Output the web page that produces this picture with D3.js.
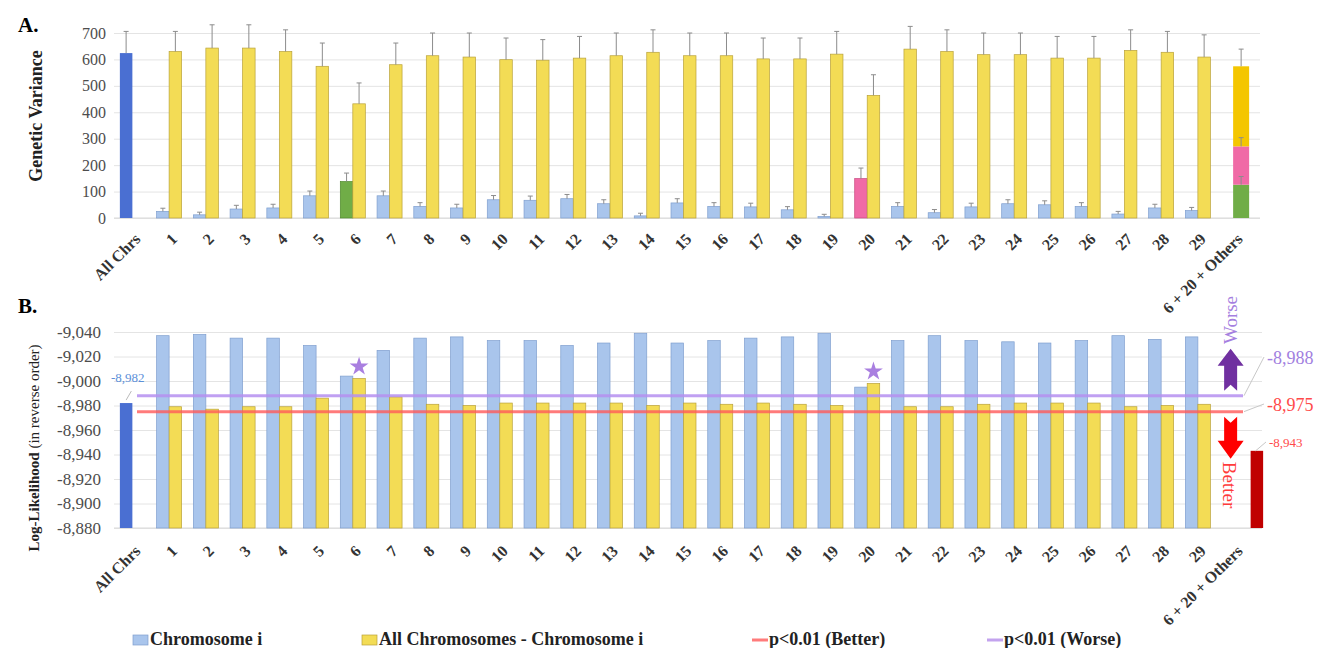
<!DOCTYPE html>
<html>
<head>
<meta charset="utf-8">
<script src="https://cdn.jsdelivr.net/npm/d3@7"></script>
<style>
  body { margin: 0; background: #fff; }
  svg { display: block; }
  svg text { font-family: "Liberation Serif", "Times New Roman", serif; }
  .grid line { stroke: #e4e4e4; }
  .grid path { display: none; }
  .ytick text { fill: #4d4d4d; }
  .xtick text { fill: #333; font-weight: bold; }
</style>
</head>
<body>
<svg id="chart" width="1324" height="648"></svg>
<script>
// categories along the x axis
var categories = ['All Chrs', '1', '2', '3', '4', '5', '6', '7', '8', '9', '10', '11', '12', '13', '14',
  '15', '16', '17', '18', '19', '20', '21', '22', '23', '24', '25', '26', '27', '28', '29', '6 + 20 + Others']
var chrNames = categories.slice(1, 30)

// panel A: genetic variance
var allChrsVariance = 624
var allChrsVarianceErr = 82
var chrVariance = [25, 12, 34, 38, 84, 138, 84, 44, 38, 69, 67, 73, 54, 8, 57, 44, 42, 31, 6, 149, 44, 20, 42, 54, 50, 44, 15, 38, 28]
var chrVarianceErr = [12, 10, 14, 14, 18, 32, 18, 14, 14, 16, 16, 16, 15, 10, 16, 14, 14, 12, 8, 40, 14, 12, 14, 15, 15, 14, 10, 14, 12]
var restVariance = [630, 643, 643, 630, 574, 432, 580, 614, 609, 599, 597, 605, 614, 627, 614, 614, 602, 602, 620, 464, 639, 630, 618, 618, 605, 605, 634, 627, 609]
var restVarianceErr = [76, 88, 88, 82, 88, 79, 82, 86, 91, 82, 78, 82, 86, 85, 86, 86, 79, 79, 86, 78, 86, 82, 82, 82, 82, 82, 78, 79, 84]
var combinedParts = [126, 145, 303]          // chr 6, chr 20, others
var combinedErr = [31, 33, 65]
var varianceTicks = [0, 100, 200, 300, 400, 500, 600, 700]

// panel B: log-likelihood
var allChrsLL = -8982
var chrLL = [-9037, -9038, -9035, -9035, -9029, -9004, -9025, -9035, -9036, -9033, -9033, -9029, -9031, -9039, -9031,
  -9033, -9035, -9036, -9039, -8995, -9033, -9037, -9033, -9032, -9031, -9033, -9037, -9034, -9036]
var restLL = [-8979, -8977, -8979, -8979, -8986, -9002, -8987, -8981, -8980, -8982, -8982, -8982, -8982, -8980, -8982,
  -8981, -8982, -8981, -8980, -8998, -8979, -8979, -8981, -8982, -8982, -8982, -8979, -8980, -8981]
var combinedLL = -8943
var thresholdWorse = -8988
var thresholdBetter = -8975
var starredChrs = ['6', '20']
var llTicks = [-9040, -9020, -9000, -8980, -8960, -8940, -8920, -8900, -8880]

var legendItems = [
  { label: 'Chromosome i', type: 'box', color: '#a9c5ec', x: 133 },
  { label: 'All Chromosomes - Chromosome i', type: 'box', color: '#f3dc55', x: 362 },
  { label: 'p<0.01 (Better)', type: 'line', color: '#ff7b7b', x: 752 },
  { label: 'p<0.01 (Worse)', type: 'line', color: '#c3a3ee', x: 987 }
]

var BLUE = '#a9c5ec', BLUE_LINE = '#7f9fcf'
var YELLOW = '#f3dc55', YELLOW_LINE = '#b9a23a'
var DARK_BLUE = '#4a6fd2'
var stackColors = ['#70ad47', '#f06aa6', '#f4c600']

var svg = d3.select('#chart')
var fmt = d3.formatLocale({ decimal: '.', thousands: ',', grouping: [3], currency: ['', ''], minus: '-' }).format(',')

var x = d3.scaleBand().domain(categories).range([114, 1253]).padding(0)
var bw = 12.5
function cx (c) { return x(c) + x.bandwidth() / 2 }

// ---------- panel A ----------
var yA = d3.scaleLinear().domain([0, 700]).range([218, 33])
var gA = svg.append('g')

gA.append('g').attr('class', 'grid')
  .attr('transform', 'translate(114,0)')
  .call(d3.axisLeft(yA).tickValues(varianceTicks).tickSize(-1146).tickFormat(''))

gA.append('g').attr('class', 'ytick')
  .attr('transform', 'translate(114,0)')
  .call(d3.axisLeft(yA).tickValues(varianceTicks).tickSize(0).tickPadding(8))
  .call(function (g) { g.select('.domain').remove() })
  .selectAll('text').style('font-size', '16px')

gA.append('line').attr('x1', 114).attr('x2', 1260).attr('y1', yA(0)).attr('y2', yA(0)).attr('stroke', '#d9d9d9')

function errBar (g, xc, y0, y1) {
  g.append('line').attr('x1', xc).attr('x2', xc).attr('y1', y0).attr('y2', y1).attr('stroke', '#8c8c8c').attr('stroke-width', 1)
  g.append('line').attr('x1', xc - 2.5).attr('x2', xc + 2.5).attr('y1', y1).attr('y2', y1).attr('stroke', '#8c8c8c').attr('stroke-width', 1)
}

// all chromosomes
gA.append('rect').attr('x', cx('All Chrs') - bw).attr('width', bw)
  .attr('y', yA(allChrsVariance)).attr('height', yA(0) - yA(allChrsVariance)).attr('fill', DARK_BLUE)
errBar(gA, cx('All Chrs') - bw / 2, yA(allChrsVariance), yA(allChrsVariance + allChrsVarianceErr))

chrNames.forEach(function (c, i) {
  var fill = BLUE, stroke = BLUE_LINE
  if (c === '6') { fill = stackColors[0]; stroke = '#4f8a2c' }
  if (c === '20') { fill = stackColors[1]; stroke = '#c9477f' }
  gA.append('rect').attr('x', cx(c) - bw).attr('width', bw)
    .attr('y', yA(chrVariance[i])).attr('height', yA(0) - yA(chrVariance[i]))
    .attr('fill', fill).attr('stroke', stroke).attr('stroke-width', 0.7)
  errBar(gA, cx(c) - bw / 2, yA(chrVariance[i]), yA(chrVariance[i] + chrVarianceErr[i]))

  gA.append('rect').attr('x', cx(c)).attr('width', bw)
    .attr('y', yA(restVariance[i])).attr('height', yA(0) - yA(restVariance[i]))
    .attr('fill', YELLOW).attr('stroke', YELLOW_LINE).attr('stroke-width', 0.7)
  errBar(gA, cx(c) + bw / 2, yA(restVariance[i]), yA(restVariance[i] + restVarianceErr[i]))
})

// stacked combined bar
var last = categories[30]
var cum = 0
var stackW = 16
combinedParts.forEach(function (v, i) {
  gA.append('rect').attr('x', cx(last) + 6.5 - stackW / 2).attr('width', stackW)
    .attr('y', yA(cum + v)).attr('height', yA(cum) - yA(cum + v)).attr('fill', stackColors[i])
  cum += v
})
cum = 0
combinedParts.forEach(function (v, i) {
  cum += v
  errBar(gA, cx(last) + 6.5, yA(cum), yA(cum + combinedErr[i]))
})

gA.append('g').attr('class', 'xtick')
  .attr('transform', 'translate(0,' + yA(0) + ')')
  .call(d3.axisBottom(x).tickSize(0))
  .call(function (g) { g.select('.domain').remove() })
  .selectAll('text')
  .attr('y', 0).attr('dy', 0)
  .attr('text-anchor', 'end')
  .attr('transform', 'translate(9,22) rotate(-45)')
  .style('font-size', '16px')

gA.append('text').attr('transform', 'translate(42,116) rotate(-90)')
  .attr('text-anchor', 'middle').style('font-size', '18px').style('font-weight', 'bold').attr('fill', '#222')
  .text('Genetic Variance')
svg.append('text').attr('x', 18).attr('y', 32).style('font-size', '21px').style('font-weight', 'bold').text('A.')

// ---------- panel B ----------
var yB = d3.scaleLinear().domain([-8880, -9040]).range([528, 332])
var gB = svg.append('g')

gB.append('g').attr('class', 'grid')
  .attr('transform', 'translate(114,0)')
  .call(d3.axisLeft(yB).tickValues(llTicks).tickSize(-1148).tickFormat(''))

gB.append('g').attr('class', 'ytick')
  .attr('transform', 'translate(114,0)')
  .call(d3.axisLeft(yB).tickValues(llTicks).tickSize(0).tickPadding(13).tickFormat(fmt))
  .call(function (g) { g.select('.domain').remove() })
  .selectAll('text').style('font-size', '17px')

gB.append('line').attr('x1', 114).attr('x2', 1262).attr('y1', yB(-8880)).attr('y2', yB(-8880)).attr('stroke', '#d9d9d9')

gB.append('rect').attr('x', cx('All Chrs') - bw).attr('width', bw)
  .attr('y', yB(allChrsLL)).attr('height', yB(-8880) - yB(allChrsLL)).attr('fill', DARK_BLUE)

chrNames.forEach(function (c, i) {
  gB.append('rect').attr('x', cx(c) - bw).attr('width', bw)
    .attr('y', yB(chrLL[i])).attr('height', yB(-8880) - yB(chrLL[i]))
    .attr('fill', BLUE).attr('stroke', BLUE_LINE).attr('stroke-width', 0.7)
  gB.append('rect').attr('x', cx(c)).attr('width', bw)
    .attr('y', yB(restLL[i])).attr('height', yB(-8880) - yB(restLL[i]))
    .attr('fill', YELLOW).attr('stroke', YELLOW_LINE).attr('stroke-width', 0.7)
})

// combined model bar
gB.append('rect').attr('x', cx(last) + 16).attr('width', bw)
  .attr('y', yB(combinedLL)).attr('height', yB(-8880) - yB(combinedLL)).attr('fill', '#c00000')

// significance lines
gB.append('line').attr('x1', 137).attr('x2', 1243).attr('y1', yB(thresholdWorse)).attr('y2', yB(thresholdWorse))
  .attr('stroke', '#b58ff0').attr('stroke-width', 3).attr('stroke-opacity', 0.85)
gB.append('line').attr('x1', 137).attr('x2', 1243).attr('y1', yB(thresholdBetter)).attr('y2', yB(thresholdBetter))
  .attr('stroke', '#ff5a5a').attr('stroke-width', 3).attr('stroke-opacity', 0.8)

// stars
var star = d3.symbol().type(d3.symbolStar).size(110)
starredChrs.forEach(function (c) {
  var i = chrNames.indexOf(c)
  gB.append('path').attr('d', star)
    .attr('transform', 'translate(' + (cx(c) + bw / 2) + ',' + (yB(restLL[i]) - 12) + ')')
    .attr('fill', '#a97fe0')
})

// all chrs label
gB.append('line').attr('x1', cx('All Chrs') - bw / 2).attr('x2', cx('All Chrs') - 1)
  .attr('y1', yB(allChrsLL) - 3).attr('y2', yB(allChrsLL) - 12).attr('stroke', '#bbb')
gB.append('text').attr('x', 111).attr('y', 382).style('font-size', '13px').attr('fill', '#5b8fd9').text(fmt(allChrsLL))

// arrows
var ax = cx(last) - 4
var wb = yB(thresholdWorse) - 5
gB.append('path')
  .attr('d', 'M' + ax + ',' + (wb - 42) + 'L' + (ax + 13) + ',' + (wb - 25) + 'L' + (ax + 6.5) + ',' + (wb - 25) +
    'L' + (ax + 6.5) + ',' + wb + 'L' + ax + ',' + (wb - 6) + 'L' + (ax - 6.5) + ',' + wb +
    'L' + (ax - 6.5) + ',' + (wb - 25) + 'L' + (ax - 13) + ',' + (wb - 25) + 'Z')
  .attr('fill', '#7030a0')
var bt = yB(thresholdBetter) + 5
gB.append('path')
  .attr('d', 'M' + ax + ',' + (bt + 42) + 'L' + (ax + 13) + ',' + (bt + 24) + 'L' + (ax + 6.5) + ',' + (bt + 24) +
    'L' + (ax + 6.5) + ',' + bt + 'L' + ax + ',' + (bt + 6) + 'L' + (ax - 6.5) + ',' + bt +
    'L' + (ax - 6.5) + ',' + (bt + 24) + 'L' + (ax - 13) + ',' + (bt + 24) + 'Z')
  .attr('fill', '#ff0000')

gB.append('text').attr('transform', 'translate(' + (ax + 6) + ',320) rotate(-90)')
  .attr('text-anchor', 'middle').style('font-size', '19px').attr('fill', '#a57fe0').text('Worse')
gB.append('text').attr('transform', 'translate(' + (ax - 8) + ',485) rotate(90)')
  .attr('text-anchor', 'middle').style('font-size', '19px').attr('fill', '#ff3b3b').text('Better')

// threshold labels with leaders
gB.append('line').attr('x1', 1244).attr('y1', yB(thresholdWorse)).attr('x2', 1264).attr('y2', 357).attr('stroke', '#c8c8c8')
gB.append('line').attr('x1', 1244).attr('y1', yB(thresholdBetter)).attr('x2', 1264).attr('y2', 404).attr('stroke', '#c8c8c8')
gB.append('line').attr('x1', cx(last) + 21).attr('y1', yB(combinedLL)).attr('x2', 1266).attr('y2', 442).attr('stroke', '#c8c8c8')
gB.append('text').attr('x', 1267).attr('y', 364).style('font-size', '18px').attr('fill', '#a27fe0').text(fmt(thresholdWorse))
gB.append('text').attr('x', 1267).attr('y', 411).style('font-size', '18px').attr('fill', '#ff4a4a').text(fmt(thresholdBetter))
gB.append('text').attr('x', 1269).attr('y', 447).style('font-size', '13px').attr('fill', '#ff4a4a').text(fmt(combinedLL))

gB.append('g').attr('class', 'xtick')
  .attr('transform', 'translate(0,' + yB(-8880) + ')')
  .call(d3.axisBottom(x).tickSize(0))
  .call(function (g) { g.select('.domain').remove() })
  .selectAll('text')
  .attr('y', 0).attr('dy', 0)
  .attr('text-anchor', 'end')
  .attr('transform', 'translate(9,24) rotate(-45)')
  .style('font-size', '16px')

var ttl = gB.append('text').attr('transform', 'translate(39,448) rotate(-90)')
  .attr('text-anchor', 'middle').style('font-size', '15px').attr('fill', '#222')
ttl.append('tspan').style('font-weight', 'bold').text('Log-Likelihood ')
ttl.append('tspan').text(' (in reverse order)')
svg.append('text').attr('x', 18).attr('y', 313).style('font-size', '21px').style('font-weight', 'bold').text('B.')

// legend
var lg = svg.append('g')
legendItems.forEach(function (d) {
  if (d.type === 'box') {
    lg.append('rect').attr('x', d.x).attr('y', 635).attr('width', 15).attr('height', 10)
      .attr('fill', d.color).attr('stroke', d.color === BLUE ? BLUE_LINE : YELLOW_LINE).attr('stroke-width', 0.7)
  } else {
    lg.append('line').attr('x1', d.x).attr('x2', d.x + 16).attr('y1', 640).attr('y2', 640)
      .attr('stroke', d.color).attr('stroke-width', 3)
  }
  lg.append('text').attr('x', d.x + 17).attr('y', 645).style('font-size', '18px').style('font-weight', 'bold')
    .attr('fill', '#222').text(d.label)
})
</script>
</body>
</html>
